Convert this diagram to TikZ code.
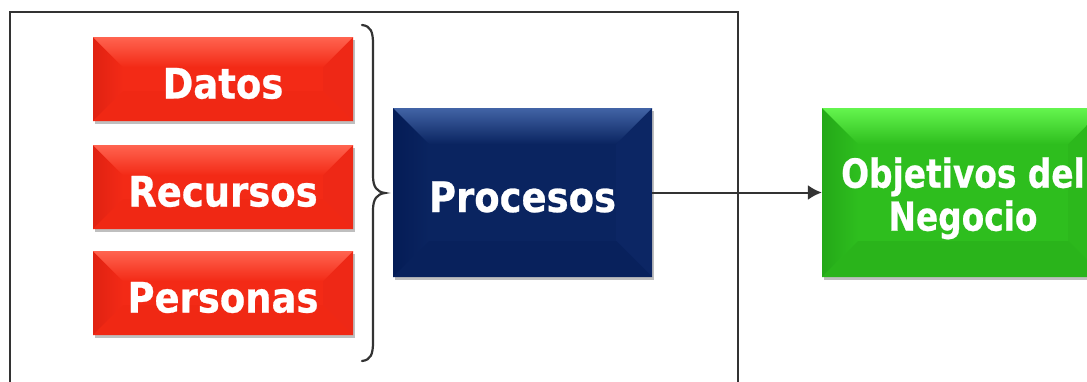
\documentclass[tikz,border=0pt]{standalone}
\usepackage{fontspec}
\usetikzlibrary{shadows,calc,arrows.meta}
\newfontfamily\boxfont{DejaVu Sans}[FakeStretch=0.88,FakeBold=0.6]
\newfontfamily\goalfont{DejaVu Sans}[FakeStretch=0.82,FakeBold=0.6]
\definecolor{redbase}{RGB}{243,42,22}
\definecolor{redtop}{RGB}{255,100,80}
\definecolor{redleft}{RGB}{224,34,18}
\definecolor{redright}{RGB}{238,40,22}
\definecolor{redbot}{RGB}{240,40,20}
\definecolor{bluebase}{RGB}{10,36,96}
\definecolor{bluetop}{RGB}{66,100,166}
\definecolor{blueleft}{RGB}{4,28,86}
\definecolor{blueright}{RGB}{12,38,100}
\definecolor{bluebot}{RGB}{8,33,92}
\definecolor{greenbase}{RGB}{46,190,30}
\definecolor{greentop}{RGB}{100,245,78}
\definecolor{greenleft}{RGB}{36,168,24}
\definecolor{greenright}{RGB}{44,184,28}
\definecolor{greenbot}{RGB}{42,180,27}
\definecolor{linegray}{RGB}{51,51,51}
% #1 base, #2 top, #3 left, #4 right, #5 bottom, #6 depth
\newcommand\bevelfill[6]{%
  \coordinate (pNW) at (path picture bounding box.north west);
  \coordinate (pNE) at (path picture bounding box.north east);
  \coordinate (pSW) at (path picture bounding box.south west);
  \coordinate (pSE) at (path picture bounding box.south east);
  \shade[left color=#3, right color=#1] (pNW) -- ($(pNW)+(#6,#6)$) -- ($(pSW)+(#6,-#6)$) -- (pSW) -- cycle;
  \fill[#4] (pNE) -- ($(pNE)+(-#6,#6)$) -- ($(pSE)+(-#6,-#6)$) -- (pSE) -- cycle;
  \fill[#5] (pSW) -- ($(pSW)+(#6,-#6)$) -- ($(pSE)+(-#6,-#6)$) -- (pSE) -- cycle;
  \shade[top color=#2, bottom color=#1] (pNW) -- (pNE) -- ($(pNE)+(-#6,#6)$) -- ($(pNW)+(#6,#6)$) -- cycle;
}
\tikzset{
  bbox/.style={draw=none, inner sep=0pt, text=white,
    drop shadow={shadow xshift=1.5pt, shadow yshift=-3pt, opacity=0.25, fill=black}},
  redbox/.style={bbox, minimum width=260pt, minimum height=84pt, fill=redbase,
    font=\boxfont\bfseries\fontsize{42}{48}\selectfont, text height=42pt, text depth=3pt,
    path picture={\bevelfill{redbase}{redtop}{redleft}{redright}{redbot}{30}}},
  bluebox/.style={bbox, minimum width=259pt, minimum height=169pt, fill=bluebase,
    font=\boxfont\bfseries\fontsize{42}{48}\selectfont, text height=42pt, text depth=3pt,
    path picture={\bevelfill{bluebase}{bluetop}{blueleft}{blueright}{bluebot}{36}}},
  greenbox/.style={bbox, minimum width=282pt, minimum height=169pt, fill=greenbase,
    align=center, font=\goalfont\bfseries\fontsize{40}{43}\selectfont,
    path picture={\bevelfill{greenbase}{greentop}{greenleft}{greenright}{greenbot}{36}}},
  frameline/.style={draw=linegray, line width=2.6pt},
  bracket/.style={draw=linegray, line width=2.2pt, line cap=round},
  connector/.style={draw=linegray, line width=2pt, -{Latex[length=14pt,width=15pt]}},
}
\begin{document}
\begin{tikzpicture}[x=1pt,y=-1pt]
\useasboundingbox (0,0) rectangle (1087,381);
\clip (0,0) rectangle (1087,381);
\fill[white] (0,0) rectangle (1087,381);
\draw[frameline] (10,12) rectangle (738,420);
\node[redbox] (datos) at (223,79) {Datos};
\node[redbox] (recursos) at (223,187) {Recursos};
\node[redbox] (personas) at (223,293) {Personas};
\node[bluebox] (procesos) at (522.5,192.5) {Procesos};
\node[greenbox] (objetivos) at (963,192.5) {\rule{0pt}{42pt}Objetivos del\\Negocio};
\draw[bracket] (362,25) .. controls (371,26) and (373,32) .. (373,44)
  -- (373,176) .. controls (373,187) and (377,192) .. (385,193)
  .. controls (377,194) and (373,199) .. (373,210)
  -- (373,342) .. controls (373,354) and (371,360) .. (362,361);
\draw[connector] (procesos.east) -- (objetivos.west);
\end{tikzpicture}
\end{document}
